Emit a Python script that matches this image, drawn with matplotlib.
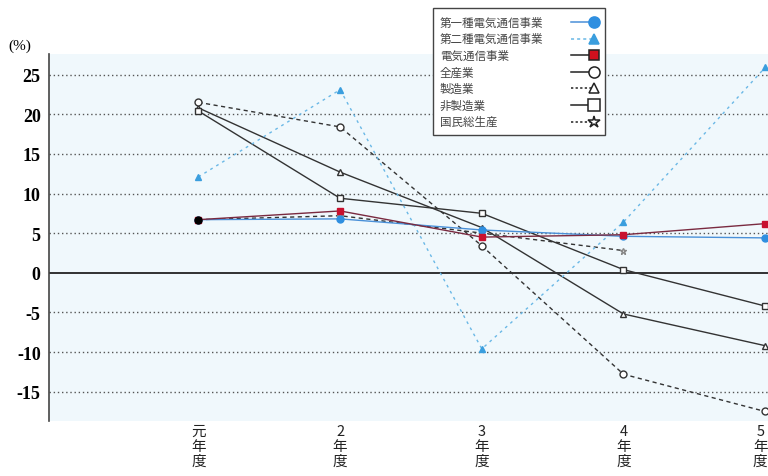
import matplotlib
matplotlib.use("Agg")
import matplotlib.pyplot as plt
import matplotlib.transforms as mtransforms
from matplotlib.lines import Line2D
from matplotlib.patches import Rectangle

plt.rcParams['font.family'] = ['Noto Sans CJK JP', 'DejaVu Sans']

W, H = 768, 477

# Fiscal years (Heisei 1-5)
years = ["元\n年\n度", "2\n年\n度", "3\n年\n度", "4\n年\n度", "5\n年\n度"]

# Growth rates (%)
type1_telecom = [6.7, 6.8, 5.4, 4.6, 4.4]
type2_telecom = [12.1, 23.1, -9.6, 6.4, 25.9]
telecom = [6.7, 7.8, 4.5, 4.8, 6.2]
all_industries = [21.5, 18.4, 3.4, -12.8, -17.5]
manufacturing = [20.8, 12.7, 5.7, -5.2, -9.2]
non_manufacturing = [20.4, 9.4, 7.5, 0.4, -4.2]
gnp = [6.7, 7.2, 5.0, 2.8]

series_names = ["第一種電気通信事業", "第二種電気通信事業", "電気通信事業",
                "全産業", "製造業", "非製造業", "国民総生産"]


def fx(px):
    return px / W


def fy(py):
    return 1 - py / H


fig = plt.figure(figsize=(W / 100, H / 100), dpi=100)
ax = fig.add_axes([fx(49), fy(422), 1 - fx(49), (422 - 55) / H])
ax.set_facecolor("#f0f8fc")

x = list(range(len(years)))
dark = "#333333"

ax.plot(x, manufacturing, color=dark, lw=1.0, marker="^", ms=4.5, mfc="white", mec=dark, zorder=3)
ax.plot(x, non_manufacturing, color=dark, lw=1.0, marker="s", ms=5, mfc="white", mec=dark, zorder=3)
ax.plot(x, all_industries, color=dark, lw=1.0, ls=(0, (3, 2.5)), marker="o", ms=5, mfc="white", mec=dark, zorder=3)
ax.plot(x[:len(gnp)], gnp, color=dark, lw=1.0, ls=(0, (3, 2.5)), marker="*", ms=5, mfc="#dddddd", mec="#888888", zorder=3)
ax.plot(x, type2_telecom, color="#6ab8e6", lw=1.0, ls=(0, (2, 3)), marker="^", ms=4.5, mfc="#3a9ede", mec="#3a9ede", zorder=3)
ax.plot(x, type1_telecom, color="#4a90d8", lw=1.0, marker="o", ms=5, mfc="#2f8fe0", mec="#2f8fe0", zorder=4)
ax.plot(x, telecom, color="#7a2a40", lw=1.0, marker="s", ms=5, mfc="#c8102e", mec="#c8102e", zorder=4)
ax.plot([x[0]], [telecom[0]], marker="o", ms=5, color="black", zorder=5)

ax.set_xlim(-1.055, 4.02)
ax.set_ylim(-18.7, 27.6)

yt = [-15, -10, -5, 0, 5, 10, 15, 20, 25]
for v in yt:
    if v == 0:
        ax.axhline(0, color="#222222", lw=1.3, zorder=2)
    else:
        ax.axhline(v, color="#555555", lw=1.0, ls=(0, (1, 2)), zorder=1)
ax.set_yticks(yt)
ax.set_yticklabels([str(v) for v in yt], family="Liberation Serif", fontweight="bold", fontsize=13)
ax.tick_params(axis="y", length=0, pad=6)

ax.set_xticks(x)
ax.set_xticklabels(years, fontsize=10.5, linespacing=1.1, color="#222222")
ax.tick_params(axis="x", length=0, pad=2)
# keep the last year label inside the figure edge
last = ax.get_xticklabels()[-1]
last.set_transform(last.get_transform() +
                   mtransforms.ScaledTranslation(-5 / 100, 0, fig.dpi_scale_trans))

for s in ["top", "right", "bottom"]:
    ax.spines[s].set_visible(False)
ax.spines["left"].set_color("#444444")
ax.spines["left"].set_linewidth(1.2)

fig.text(fx(8), fy(46), "(%)", fontsize=11, va="center", ha="left", family="Liberation Serif")

# Legend box with labels on the left and line samples on the right
fig.add_artist(Rectangle((fx(433), fy(136)), fx(605) - fx(433), (136 - 9) / H,
                         transform=fig.transFigure, facecolor="white",
                         edgecolor="#444444", lw=1.0, zorder=10))
legend_styles = [
    dict(color="#4a90d8", ls="-", marker="o", ms=8, mfc="#2f8fe0", mec="#2f8fe0"),
    dict(color="#6ab8e6", ls=(0, (2, 2)), marker="^", ms=6.5, mfc="#3a9ede", mec="#3a9ede"),
    dict(color="#222222", ls="-", marker="s", ms=7.5, mfc="#d0101e", mec="#222222"),
    dict(color="#222222", ls="-", marker="o", ms=8, mfc="white", mec="#222222"),
    dict(color="#222222", ls=(0, (1.5, 1.5)), marker="^", ms=7.5, mfc="white", mec="#222222"),
    dict(color="#222222", ls="-", marker="s", ms=8, mfc="white", mec="#222222"),
    dict(color="#222222", ls=(0, (1.5, 1.5)), marker="*", ms=9, mfc="white", mec="#222222"),
]
row_y = [23 + 16.6 * i for i in range(len(series_names))]
for name, st, ry in zip(series_names, legend_styles, row_y):
    fig.text(fx(440), fy(ry), name, fontsize=8.3, color="#444444",
             va="center", ha="left", zorder=11)
    fig.add_artist(Line2D([fx(571), fx(594)], [fy(ry), fy(ry)], transform=fig.transFigure,
                          color=st["color"], ls=st["ls"], lw=1.1, zorder=11))
    fig.add_artist(Line2D([fx(594)], [fy(ry)], transform=fig.transFigure, ls="none",
                          marker=st["marker"], ms=st["ms"], mfc=st["mfc"], mec=st["mec"],
                          mew=1.1, zorder=12))

fig.savefig("out.png", dpi=100)
